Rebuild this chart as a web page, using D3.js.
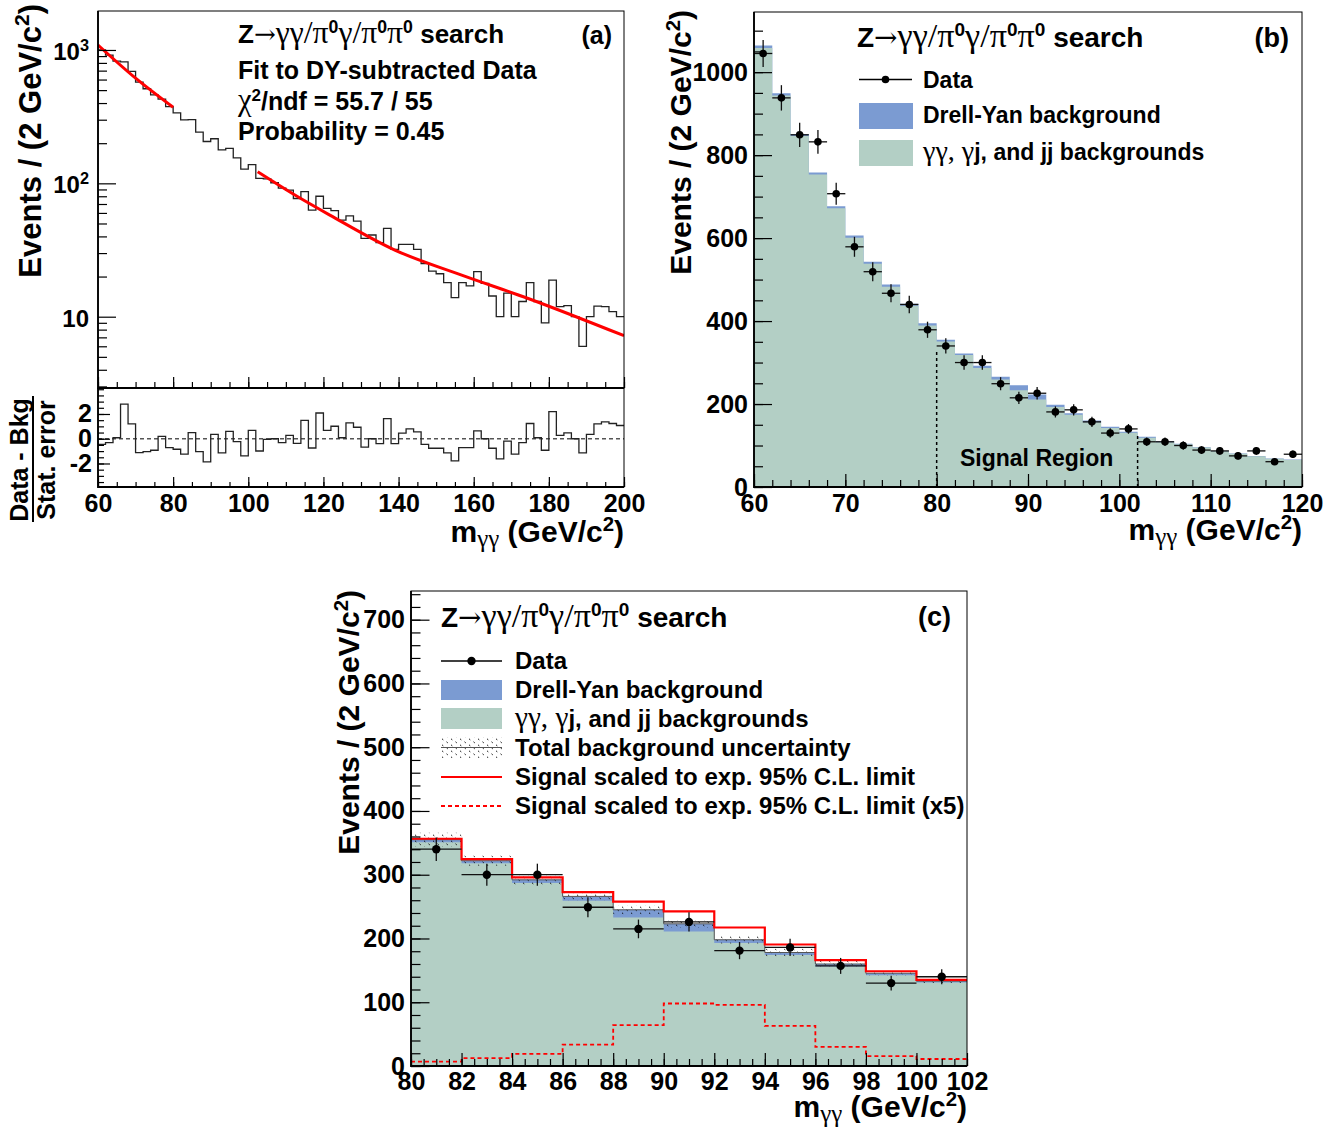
<!DOCTYPE html>
<html>
<head>
<meta charset="utf-8">
<script src="https://cdn.jsdelivr.net/npm/d3@7"></script>
<style>
  body { margin: 0; background: #fff; }
  svg { display: block; }
  text { font-family: 'Liberation Sans', Arial, Helvetica, sans-serif; font-weight: bold; fill: #000; }
</style>
</head>
<body>
<svg id="chart" width="1338" height="1129"></svg>
<script>
'use strict';

// ---------- panel (a): DY-subtracted data, 2 GeV bins from 60 to 200 ----------
var binsA = d3.range(60, 200, 2);
var countsA = [1000, 915, 825, 815, 690, 575, 512, 461, 428, 376,
               338, 299, 300, 242, 206, 216, 178, 183, 155, 128,
               138, 109, 108, 101, 92, 89, 77, 86.6, 63, 80,
               65, 62.4, 53, 57, 52, 38.7, 41, 35.9, 46, 32,
               34.9, 34.9, 32, 25, 22, 21, 18, 13.9, 18, 17,
               21.8, 17.8, 14.3, 10, 15, 10, 13, 18, 13, 9,
               18.8, 11.9, 12.1, 10, 6, 10, 12, 11.9, 10.9, 10];
var pullsA = [-0.45, -0.32, 0.08, 2.8, 1.2, -1.12, -1.04, -0.93, 0.19, -0.72,
              -0.85, -1.25, 0.5, -1.04, -1.87, 0.35, -1.15, 0.59, -0.24, -1.39,
              0.67, -0.99, -0.05, 0.0, -0.32, 0.27, -0.37, 1.49, -0.75, 2.08,
              0.67, 1.01, 0.08, 1.28, 0.93, -0.67, 0.0, -0.4, 1.63, -0.4,
              0.45, 0.8, 0.56, -0.45, -0.77, -0.77, -1.15, -1.79, -0.72, -0.72,
              0.64, 0.0, -0.77, -1.63, -0.19, -1.25, -0.32, 1.23, 0.08, -0.93,
              2.19, 0.27, 0.48, 0.0, -1.15, 0.35, 1.2, 1.36, 1.23, 1.07];
// fit curve (two fit ranges)
var fitLowX = [60, 70, 80];
var fitLowY = [1090, 615, 372];
var fitHighX = [102.5, 112.4, 121.7, 139, 156.8, 174.5, 200];
var fitHighY = [122, 81.7, 57.8, 31.6, 20.5, 13.7, 7.2];
var ticksAx = [60, 80, 100, 120, 140, 160, 180, 200];
var ticksAy = [10, 100, 1000];
var ticksPull = [-2, 0, 2];

// ---------- panel (b): 60-120 spectrum ----------
var binsB = d3.range(60, 120, 2);
var dataB = [1045, 938, 849, 832, 707, 579, 519, 467, 440, 379,
             340, 300, 300, 249, 215, 226, 181, 186, 157, 130,
             140, 109, 109, 100, 89, 87, 75, 87, 61, 79];
var bkgB  = [1064, 949, 851, 758, 677, 606, 543, 488, 442, 395,
             355, 322, 292, 266, 245, 223, 198, 178, 160, 145.5,
             133, 121, 110, 104, 96, 87, 81, 75, 69, 66];
var dyB   = [6, 5, 5, 5, 5, 5, 5, 5, 5, 6,
             4, 4, 5, 7, 12, 12, 5, 4, 4, 3,
             2, 2, 2, 1, 1, 1, 1, 1, 1, 1];
var sigRegion = [80, 102];
var sigRegionTop = [332, 125];
var ticksBx = [60, 70, 80, 90, 100, 110, 120];
var ticksBy = [0, 200, 400, 600, 800, 1000];

// ---------- panel (c): signal region 80-102 (bins 10..20 of panel b) ----------
var firstC = 10, lastC = 21;
var sigC = [1.4, 2.5, 3.8, 6.7, 12.8, 19.6, 19.2, 12.6, 6.0, 3.1, 2.2];
var uncC = [11, 8, 8, 6, 7, 6, 6, 6, 4.5, 3.5, 3];
var sigScaleDash = 5;
var ticksCx = [80, 82, 84, 86, 88, 90, 92, 94, 96, 98, 100, 102];
var ticksCy = [0, 100, 200, 300, 400, 500, 600, 700];

var GREEN = '#b3cfc5', BLUE = '#7b9bd2', RED = '#ff0000';
var SERIF = "'Liberation Serif', 'DejaVu Serif', serif";
var ARROWF = "'DejaVu Serif', 'Liberation Serif', serif";

var svg = d3.select('#chart');
var defs = svg.append('defs');

var hatch = defs.append('pattern').attr('id', 'hatch')
  .attr('patternUnits', 'userSpaceOnUse').attr('width', 9).attr('height', 6);
hatch.append('path').attr('d', 'M1,0.8 l1.3,1.1 M5.5,3.8 l1.3,1.1')
  .attr('stroke', '#000').attr('stroke-width', 0.9);

function clip(id, x0, y0, x1, y1) {
  defs.append('clipPath').attr('id', id).append('rect')
    .attr('x', x0).attr('y', y0).attr('width', x1 - x0).attr('height', y1 - y0);
}

// text with greek letters, super- and subscripts
function rich(t, parts, size) {
  var shift = 0;
  parts.forEach(function(p) {
    if (typeof p === 'string') p = { t: p };
    var s = t.append('tspan').text(p.t);
    var target = p.sup ? -0.38 * size : (p.sub ? 0.18 * size : 0);
    s.attr('dy', target - shift);
    shift = target;
    var fs = (p.sup || p.sub) ? size * 0.68 : size;
    if (p.g) fs *= 1.22;
    if (fs !== size) s.attr('font-size', fs);
    if (p.g) s.style('font-family', SERIF).style('font-weight', 'normal');
    if (p.arrow) s.style('font-family', ARROWF).style('font-weight', 'normal');
  });
}
function label(x, y, parts, size, anchor, rot) {
  var t = svg.append('text').attr('font-size', size).attr('text-anchor', anchor || 'start');
  if (rot) t.attr('transform', 'translate(' + x + ',' + y + ') rotate(-90)');
  else t.attr('x', x).attr('y', y);
  rich(t, parts, size);
  return t;
}

var titleParts = ['Z', { t: '\u2192', arrow: 1 }, { t: '\u03b3\u03b3/\u03c0', g: 1 }, { t: '0', sup: 1 }, { t: '\u03b3/\u03c0', g: 1 },
                  { t: '0', sup: 1 }, { t: '\u03c0', g: 1 }, { t: '0', sup: 1 }, ' search'];
var massTitle = ['m', { t: '\u03b3\u03b3', g: 1, sub: 1 }, ' (GeV/c', { t: '2', sup: 1 }, ')'];
var eventsTitle = ['Events / (2 GeV/c', { t: '2', sup: 1 }, ')'];
var plainNum = function(d) { return String(d); };

function styleAxis(s, size) {
  s.select('.domain').remove();
  s.selectAll('line').attr('stroke', '#000').attr('stroke-width', 1.2);
  s.attr('font-size', size || 25).attr('font-family', null);
}
function xTicks(scale, y0, major, minor, majLen, minLen, pad, withLabels) {
  svg.append('g').attr('transform', 'translate(0,' + y0 + ')')
    .call(d3.axisBottom(scale).tickValues(minor).tickSize(-minLen).tickFormat(''))
    .call(styleAxis);
  svg.append('g').attr('transform', 'translate(0,' + y0 + ')')
    .call(d3.axisBottom(scale).tickValues(major).tickSize(-majLen).tickPadding(pad)
      .tickFormat(withLabels ? plainNum : ''))
    .call(styleAxis);
}
function yTicks(scale, x0, major, minor, majLen, minLen, withLabels) {
  svg.append('g').attr('transform', 'translate(' + x0 + ',0)')
    .call(d3.axisLeft(scale).tickValues(minor).tickSize(-minLen).tickFormat(''))
    .call(styleAxis);
  svg.append('g').attr('transform', 'translate(' + x0 + ',0)')
    .call(d3.axisLeft(scale).tickValues(major).tickSize(-majLen).tickPadding(6)
      .tickFormat(withLabels ? plainNum : ''))
    .call(styleAxis);
}
function frame(x0, y0, x1, y1) {
  svg.append('rect').attr('x', x0).attr('y', y0).attr('width', x1 - x0).attr('height', y1 - y0)
    .attr('fill', 'none').attr('stroke', '#000').attr('stroke-width', 1);
  svg.append('path').attr('d', 'M' + x0 + ',' + y0 + 'V' + y1 + 'H' + x1)
    .attr('fill', 'none').attr('stroke', '#000').attr('stroke-width', 1.8);
}
function stepPts(lo, vals, w) {
  var pts = lo.map(function(e, i) { return [e, vals[i]]; });
  pts.push([lo[lo.length - 1] + w, vals[vals.length - 1]]);
  return pts;
}
function dataPoints(x, y, lo, vals, w, r, cl) {
  var g = svg.append('g').attr('clip-path', 'url(#' + cl + ')');
  var pts = g.selectAll('g').data(vals.map(function(v, i) { return { lo: lo[i], v: v }; }))
    .enter().append('g');
  pts.append('line')
    .attr('x1', function(d) { return x(d.lo); }).attr('x2', function(d) { return x(d.lo + w); })
    .attr('y1', function(d) { return y(d.v); }).attr('y2', function(d) { return y(d.v); })
    .attr('stroke', '#111').attr('stroke-width', 1.3);
  pts.append('line')
    .attr('x1', function(d) { return x(d.lo + w / 2); }).attr('x2', function(d) { return x(d.lo + w / 2); })
    .attr('y1', function(d) { return y(d.v - Math.sqrt(d.v)); }).attr('y2', function(d) { return y(d.v + Math.sqrt(d.v)); })
    .attr('stroke', '#111').attr('stroke-width', 1.3);
  pts.append('circle')
    .attr('cx', function(d) { return x(d.lo + w / 2); }).attr('cy', function(d) { return y(d.v); })
    .attr('r', r).attr('fill', '#000');
}

// ======================= panel (a) =======================
var AL = 98, AR = 624, AT = 11, AM = 388, AB = 487;
var xA = d3.scaleLinear().domain([60, 200]).range([AL, AR]);
var yA = d3.scaleLog().domain([2.92, 1960]).range([AM, AT]);
var pA = d3.scaleLinear().domain([-3.9, 4.1]).range([AB, AM]);
clip('clipA', AL, AT, AR, AM);
clip('clipP', AL, AM, AR, AB);

var lineA = d3.line().curve(d3.curveStepAfter)
  .x(function(d) { return xA(d[0]); }).y(function(d) { return yA(d[1]); });
svg.append('path').attr('clip-path', 'url(#clipA)')
  .attr('d', lineA(stepPts(binsA, countsA, 2)))
  .attr('fill', 'none').attr('stroke', '#222').attr('stroke-width', 1.3);

var fitLine = d3.line().curve(d3.curveMonotoneX)
  .x(function(d) { return xA(d[0]); }).y(function(d) { return yA(d[1]); });
[[fitLowX, fitLowY], [fitHighX, fitHighY]].forEach(function(f) {
  svg.append('path').attr('clip-path', 'url(#clipA)')
    .attr('d', fitLine(f[0].map(function(v, i) { return [v, f[1][i]]; })))
    .attr('fill', 'none').attr('stroke', RED).attr('stroke-width', 3);
});

// pulls pad
svg.append('line').attr('x1', AL).attr('x2', AR).attr('y1', pA(0)).attr('y2', pA(0))
  .attr('stroke', '#555').attr('stroke-width', 1.3).attr('stroke-dasharray', '4,3');
var lineP = d3.line().curve(d3.curveStepAfter)
  .x(function(d) { return xA(d[0]); }).y(function(d) { return pA(d[1]); });
svg.append('path').attr('clip-path', 'url(#clipP)')
  .attr('d', lineP(stepPts(binsA, pullsA, 2)))
  .attr('fill', 'none').attr('stroke', '#222').attr('stroke-width', 1.3);

frame(AL, AT, AR, AM);
frame(AL, AM, AR, AB);
xTicks(xA, AM, ticksAx, d3.range(60, 201, 5), 11, 6, 0, false);
xTicks(xA, AB, ticksAx, d3.range(60, 201, 5), 10, 5, 7, true);
var logMinor = [];
[1, 10, 100].forEach(function(dec) { d3.range(2, 10).forEach(function(k) { if (k * dec > 2.92) logMinor.push(k * dec); }); });
yTicks(yA, AL, ticksAy, logMinor, 18, 9, false);
yTicks(pA, AL, ticksPull, d3.range(-3.5, 4.01, 0.5), 12, 6, true);
ticksAy.forEach(function(v) {
  var ex = Math.round(Math.log10(v));
  label(AL - 9, yA(v) + 10, ex === 1 ? ['10'] : ['10', { t: String(ex), sup: 1 }], 24, 'end');
});

label(30 + 11, 4, eventsTitle, 31, 'end', true);
label(AR, 542, massTitle, 30, 'end');
// fraction title of the pull pad
label(28, 460, ['Data - Bkg'], 25, 'middle', true);
label(55, 460, ['Stat. error'], 25, 'middle', true);
svg.append('line').attr('x1', 33).attr('x2', 33).attr('y1', 396).attr('y2', 522)
  .attr('stroke', '#000').attr('stroke-width', 2);

label(238, 43, titleParts, 26, 'start');
label(612, 44, ['(a)'], 25, 'end');
label(238, 79, ['Fit to DY-subtracted Data'], 25, 'start');
label(238, 110, [{ t: '\u03c7', g: 1 }, { t: '2', sup: 1 }, '/ndf = 55.7 / 55'], 25, 'start');
label(238, 140, ['Probability = 0.45'], 25, 'start');

// ======================= panel (b) =======================
var BL = 754, BR = 1302, BT = 12, BB = 487;
var xB = d3.scaleLinear().domain([60, 120]).range([BL, BR]);
var yB = d3.scaleLinear().domain([0, 1145]).range([BB, BT]);
clip('clipB', BL, BT, BR, BB);

var greenB = bkgB.map(function(v, i) { return v - dyB[i]; });
var areaB = function(vals) {
  return d3.area().curve(d3.curveStepAfter)
    .x(function(d) { return xB(d[0]); }).y0(yB(0)).y1(function(d) { return yB(d[1]); })(stepPts(binsB, vals, 2));
};
svg.append('path').attr('clip-path', 'url(#clipB)').attr('d', areaB(bkgB)).attr('fill', BLUE);
svg.append('path').attr('clip-path', 'url(#clipB)').attr('d', areaB(greenB)).attr('fill', GREEN);

sigRegion.forEach(function(e, i) {
  svg.append('line').attr('x1', xB(e)).attr('x2', xB(e)).attr('y1', yB(0)).attr('y2', yB(sigRegionTop[i]))
    .attr('stroke', '#000').attr('stroke-width', 1.5).attr('stroke-dasharray', '3,3');
});
label(960, 466, ['Signal Region'], 23, 'start');
dataPoints(xB, yB, binsB, dataB, 2, 3.8, 'clipB');

frame(BL, BT, BR, BB);
xTicks(xB, BB, ticksBx, d3.range(60, 120.1, 2), 13, 7, 7, true);
yTicks(yB, BL, ticksBy, d3.range(0, 1145, 50), 18, 9, true);

label(680 + 11, 10, eventsTitle, 30, 'end', true);
label(BR, 540, massTitle, 30, 'end');
label(857, 47, titleParts, 28, 'start');
label(1289, 47, ['(b)'], 27, 'end');

// legend (b)
svg.append('line').attr('x1', 859).attr('x2', 912).attr('y1', 79.5).attr('y2', 79.5).attr('stroke', '#000').attr('stroke-width', 1.3);
svg.append('circle').attr('cx', 885.5).attr('cy', 79.5).attr('r', 3.8).attr('fill', '#000');
svg.append('rect').attr('x', 859).attr('y', 103).attr('width', 54).attr('height', 26).attr('fill', BLUE);
svg.append('rect').attr('x', 859).attr('y', 140).attr('width', 54).attr('height', 26).attr('fill', GREEN);
label(923, 88, ['Data'], 23);
label(923, 123, ['Drell-Yan background'], 23);
label(923, 160, [{ t: '\u03b3\u03b3, \u03b3', g: 1 }, 'j, and jj backgrounds'], 23);

// ======================= panel (c) =======================
var CL = 411, CR = 967, CT = 591, CB = 1066;
var xC = d3.scaleLinear().domain([80, 102]).range([CL, CR]);
var yC = d3.scaleLinear().domain([0, 745]).range([CB, CT]);
clip('clipC', CL, CT, CR, CB);

var binsC = binsB.slice(firstC, lastC);
var bkgC = bkgB.slice(firstC, lastC);
var greenC = greenB.slice(firstC, lastC);
var dataC = dataB.slice(firstC, lastC);
var totC = bkgC.map(function(v, i) { return v + sigC[i]; });
var sig5C = sigC.map(function(v) { return v * sigScaleDash; });

var stepC = function(vals) {
  return d3.line().curve(d3.curveStepAfter)
    .x(function(d) { return xC(d[0]); }).y(function(d) { return yC(d[1]); })(stepPts(binsC, vals, 2));
};
var areaC = function(lo, hi) {
  var pts = binsC.map(function(e, i) { return [e, lo[i], hi[i]]; });
  var n = binsC.length - 1;
  pts.push([binsC[n] + 2, lo[n], hi[n]]);
  return d3.area().curve(d3.curveStepAfter)
    .x(function(d) { return xC(d[0]); }).y0(function(d) { return yC(d[1]); }).y1(function(d) { return yC(d[2]); })(pts);
};
var zeros = bkgC.map(function() { return 0; });
svg.append('path').attr('clip-path', 'url(#clipC)').attr('d', areaC(zeros, bkgC)).attr('fill', BLUE);
svg.append('path').attr('clip-path', 'url(#clipC)').attr('d', areaC(zeros, greenC)).attr('fill', GREEN);
svg.append('path').attr('clip-path', 'url(#clipC)')
  .attr('d', areaC(bkgC.map(function(v, i) { return v - uncC[i]; }), bkgC.map(function(v, i) { return v + uncC[i]; })))
  .attr('fill', 'url(#hatch)');
svg.append('path').attr('clip-path', 'url(#clipC)').attr('d', stepC(bkgC))
  .attr('fill', 'none').attr('stroke', '#555').attr('stroke-width', 1);
svg.append('path').attr('clip-path', 'url(#clipC)').attr('d', stepC(totC))
  .attr('fill', 'none').attr('stroke', RED).attr('stroke-width', 2.2);
svg.append('path').attr('clip-path', 'url(#clipC)').attr('d', stepC(sig5C))
  .attr('fill', 'none').attr('stroke', RED).attr('stroke-width', 1.8).attr('stroke-dasharray', '4,3');
dataPoints(xC, yC, binsC, dataC, 2, 4.2, 'clipC');

frame(CL, CT, CR, CB);
xTicks(xC, CB, ticksCx, d3.range(80, 102.01, 0.5), 13, 7, 6, true);
yTicks(yC, CL, ticksCy, d3.range(0, 745, 20), 18.5, 9.5, true);

label(348 + 11, 590, eventsTitle, 30, 'end', true);
label(CR, 1117, massTitle, 30, 'end');
label(441, 627, titleParts, 28, 'start');
label(951, 626, ['(c)'], 27, 'end');

// legend (c)
var lgx0 = 441, lgx1 = 502, lgText = 515;
svg.append('line').attr('x1', lgx0).attr('x2', lgx1).attr('y1', 661).attr('y2', 661).attr('stroke', '#000').attr('stroke-width', 1.3);
svg.append('circle').attr('cx', (lgx0 + lgx1) / 2).attr('cy', 661).attr('r', 4.2).attr('fill', '#000');
svg.append('rect').attr('x', lgx0).attr('y', 680).attr('width', lgx1 - lgx0).attr('height', 20).attr('fill', BLUE);
svg.append('rect').attr('x', lgx0).attr('y', 708).attr('width', lgx1 - lgx0).attr('height', 21).attr('fill', GREEN);
svg.append('rect').attr('x', lgx0).attr('y', 737).attr('width', lgx1 - lgx0).attr('height', 21).attr('fill', 'url(#hatch)');
svg.append('line').attr('x1', lgx0).attr('x2', lgx1).attr('y1', 747.5).attr('y2', 747.5).attr('stroke', '#555').attr('stroke-width', 1.2);
svg.append('line').attr('x1', lgx0).attr('x2', lgx1).attr('y1', 777).attr('y2', 777).attr('stroke', RED).attr('stroke-width', 2.2);
svg.append('line').attr('x1', lgx0).attr('x2', lgx1).attr('y1', 806).attr('y2', 806).attr('stroke', RED).attr('stroke-width', 1.8).attr('stroke-dasharray', '4,3');
label(lgText, 669, ['Data'], 24);
label(lgText, 698, ['Drell-Yan background'], 24);
label(lgText, 727, [{ t: '\u03b3\u03b3, \u03b3', g: 1 }, 'j, and jj backgrounds'], 24);
label(lgText, 756, ['Total background uncertainty'], 24);
label(lgText, 785, ['Signal scaled to exp. 95% C.L. limit'], 24);
label(lgText, 814, ['Signal scaled to exp. 95% C.L. limit (x5)'], 24);
</script>
</body>
</html>
